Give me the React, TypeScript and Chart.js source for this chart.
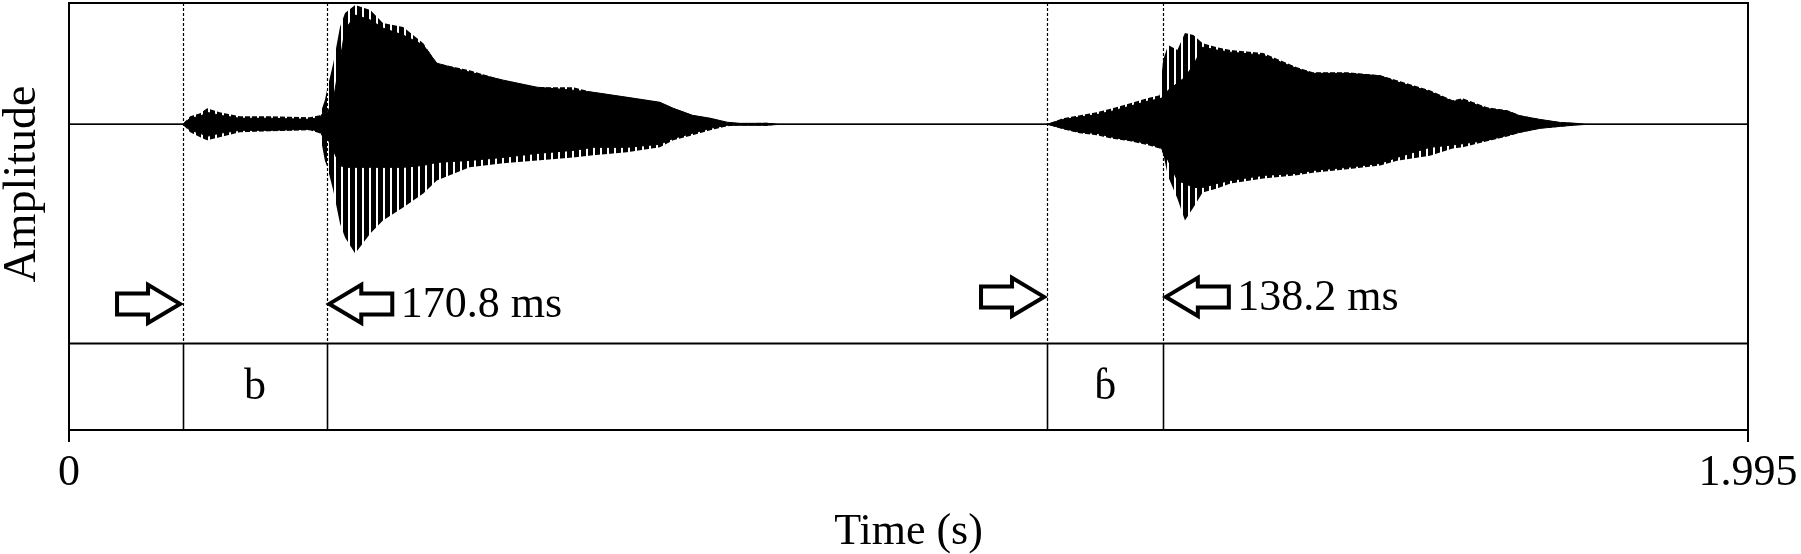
import { useEffect, useRef } from 'react';
import { Chart, registerables } from 'chart.js';

Chart.register(...registerables);

// ---- Data ----
// time (s) of each envelope sample
const TIME = [
  0.0, 0.135, 0.144, 0.156, 0.164, 0.179, 0.203, 0.239, 0.286, 0.298,
  0.304, 0.307, 0.314, 0.322, 0.328, 0.34, 0.358, 0.373, 0.397, 0.421,
  0.437, 0.476, 0.516, 0.556, 0.599, 0.623, 0.663, 0.702, 0.718, 0.741,
  0.762, 0.782, 0.797, 0.829, 0.845,
  1.162, 1.181, 1.201, 1.221, 1.24, 1.261, 1.281, 1.296, 1.3, 1.306,
  1.317, 1.326, 1.336, 1.347, 1.364, 1.38, 1.419, 1.459, 1.478, 1.519,
  1.558, 1.578, 1.617, 1.644, 1.656, 1.685, 1.709, 1.724, 1.748, 1.772,
  1.787, 1.804, 1.995,
];
// outer (spike) envelope, positive side
const UPPER_PEAK = [
  0, 0, 0.066, 0.091, 0.132, 0.099, 0.066, 0.066, 0.058, 0.074,
  0.198, 0.298, 0.504, 0.802, 0.917, 0.983, 0.942, 0.835, 0.802, 0.669,
  0.504, 0.446, 0.364, 0.306, 0.306, 0.264, 0.223, 0.182, 0.132, 0.074,
  0.05, 0.017, 0.008, 0.012, 0,
  0, 0.05, 0.074, 0.099, 0.132, 0.174, 0.215, 0.24, 0.529, 0.653,
  0.612, 0.752, 0.736, 0.669, 0.636, 0.612, 0.587, 0.471, 0.43, 0.43,
  0.405, 0.364, 0.281, 0.198, 0.215, 0.14, 0.116, 0.074, 0.041, 0.017,
  0.01, 0, 0,
];
// dense (solid) body, positive side
const UPPER_BODY = [
  0, 0, 0.05, 0.066, 0.099, 0.074, 0.05, 0.05, 0.041, 0.058,
  0.116, 0.099, 0.198, 0.529, 0.777, 0.901, 0.86, 0.793, 0.736, 0.653,
  0.504, 0.43, 0.364, 0.306, 0.281, 0.264, 0.223, 0.182, 0.132, 0.074,
  0.05, 0.017, 0.008, 0.008, 0,
  0, 0.04, 0.06, 0.08, 0.11, 0.15, 0.19, 0.21, 0.223, 0.281,
  0.339, 0.388, 0.488, 0.636, 0.612, 0.595, 0.57, 0.46, 0.42, 0.42,
  0.4, 0.35, 0.27, 0.19, 0.2, 0.13, 0.11, 0.07, 0.04, 0.015,
  0.01, 0, 0,
];
// dense (solid) body, negative side
const LOWER_BODY = [
  0, 0, -0.05, -0.074, -0.099, -0.074, -0.05, -0.05, -0.041, -0.058,
  -0.132, -0.116, -0.215, -0.339, -0.355, -0.355, -0.355, -0.355, -0.355, -0.339,
  -0.314, -0.298, -0.273, -0.24, -0.215, -0.19, -0.19, -0.165, -0.116, -0.074,
  -0.033, -0.008, -0.008, -0.008, 0,
  0, -0.033, -0.066, -0.074, -0.107, -0.132, -0.157, -0.19, -0.215, -0.298,
  -0.463, -0.488, -0.521, -0.521, -0.488, -0.463, -0.421, -0.405, -0.38, -0.355,
  -0.322, -0.273, -0.19, -0.17, -0.16, -0.132, -0.091, -0.066, -0.033, -0.017,
  -0.008, 0, 0,
];
// outer (spike) envelope, negative side
const LOWER_PEAK = [
  0, 0, -0.066, -0.107, -0.132, -0.107, -0.066, -0.058, -0.05, -0.074,
  -0.298, -0.355, -0.545, -0.818, -0.934, -1.066, -0.901, -0.793, -0.686, -0.57,
  -0.463, -0.355, -0.322, -0.298, -0.273, -0.256, -0.231, -0.19, -0.132, -0.091,
  -0.05, -0.017, -0.008, -0.012, 0,
  0, -0.04, -0.074, -0.09, -0.12, -0.14, -0.17, -0.2, -0.24, -0.43,
  -0.612, -0.793, -0.686, -0.562, -0.529, -0.488, -0.446, -0.42, -0.4, -0.37,
  -0.34, -0.3, -0.26, -0.2, -0.19, -0.14, -0.1, -0.07, -0.035, -0.02,
  -0.01, 0, 0,
];
const BASELINE_TIME = [0, 1.995];
const X_TICKS = [0, 1.995];
// segment intervals on the annotation tier (s)
const SEG_START = [0.1355, 1.1621];
const SEG_END = [0.3063, 1.3003];
const SEG_LABELS = ['b', 'ɓ'];
const DURATION_LABELS = ['170.8 ms', '138.2 ms'];
// vertical range: waveform on top, annotation tier below TIER_TOP
const Y_MIN = -2.52;
const Y_MAX = 1.0;
const TIER_TOP = -1.806;

const FONT = '"Liberation Serif", "Times New Roman", serif';

function drawArrow(ctx: CanvasRenderingContext2D, tipX: number, cy: number, dir: number) {
  const L = 63;
  const H = 32;
  const hh = 19;
  const sh = 10.5;
  ctx.beginPath();
  ctx.moveTo(tipX, cy);
  ctx.lineTo(tipX - dir * H, cy - hh);
  ctx.lineTo(tipX - dir * H, cy - sh);
  ctx.lineTo(tipX - dir * L, cy - sh);
  ctx.lineTo(tipX - dir * L, cy + sh);
  ctx.lineTo(tipX - dir * H, cy + sh);
  ctx.lineTo(tipX - dir * H, cy + hh);
  ctx.closePath();
  ctx.fillStyle = '#fff';
  ctx.fill();
  ctx.lineWidth = 4;
  ctx.lineJoin = 'miter';
  ctx.strokeStyle = '#000';
  ctx.stroke();
}

const annotationPlugin = {
  id: 'tierAnnotations',
  afterDraw(chart: any) {
    const { ctx, chartArea, scales } = chart;
    const { left, right, top, bottom } = chartArea;
    const x = scales.x;
    const y = scales.y;
    const split = y.getPixelForValue(TIER_TOP);
    ctx.save();
    ctx.strokeStyle = '#000';
    ctx.lineCap = 'butt';
    // top border & tier separator
    ctx.lineWidth = 2;
    ctx.beginPath();
    ctx.moveTo(left - 1, top);
    ctx.lineTo(right + 1, top);
    ctx.stroke();
    ctx.beginPath();
    ctx.moveTo(left, split);
    ctx.lineTo(right, split);
    ctx.stroke();

    const arrowOffsets = [39.5, 46.5];
    SEG_START.forEach((t0, i) => {
      const t1 = SEG_END[i];
      const p0 = x.getPixelForValue(t0);
      const p1 = x.getPixelForValue(t1);
      [p0, p1].forEach((p) => {
        const px = Math.round(p) + 0.5;
        ctx.setLineDash([3, 2]);
        ctx.lineWidth = 1.2;
        ctx.beginPath();
        ctx.moveTo(px, top);
        ctx.lineTo(px, split);
        ctx.stroke();
        ctx.setLineDash([]);
        ctx.lineWidth = 1.6;
        ctx.beginPath();
        ctx.moveTo(px, split);
        ctx.lineTo(px, bottom);
        ctx.stroke();
      });
      // segment label
      ctx.fillStyle = '#000';
      ctx.font = `44px ${FONT}`;
      ctx.textAlign = 'center';
      ctx.textBaseline = 'alphabetic';
      ctx.fillText(SEG_LABELS[i], (p0 + p1) / 2, (split + bottom) / 2 + 12);
      // arrows
      const cy = split - arrowOffsets[i];
      drawArrow(ctx, p0 - 3, cy, 1);
      drawArrow(ctx, p1 + 2.5, cy, -1);
      ctx.fillStyle = '#000';
      ctx.textAlign = 'left';
      ctx.fillText(DURATION_LABELS[i], p1 + 74, cy + 13);
    });

    // y axis title
    ctx.save();
    ctx.translate(35, 184);
    ctx.rotate(-Math.PI / 2);
    ctx.textAlign = 'center';
    ctx.textBaseline = 'alphabetic';
    ctx.font = `46px ${FONT}`;
    ctx.fillStyle = '#000';
    ctx.fillText('Amplitude', 0, 0);
    ctx.restore();
    ctx.restore();
  },
};

export default function App() {
  const ref = useRef<HTMLCanvasElement | null>(null);

  useEffect(() => {
    document.body.style.margin = '0';
    const canvas = ref.current;
    if (!canvas) return;
    const ctx = canvas.getContext('2d')!;

    const pc = document.createElement('canvas');
    pc.width = 7;
    pc.height = 4;
    const pctx = pc.getContext('2d')!;
    pctx.fillStyle = '#000';
    pctx.fillRect(0, 0, 5, 4);
    const pattern = ctx.createPattern(pc, 'repeat') || '#333';

    const pts = (arr: number[]) => TIME.map((t, i) => ({ x: t, y: arr[i] }));

    const chart = new Chart(ctx, {
      type: 'line',
      data: {
        datasets: [
          {
            data: pts(UPPER_PEAK),
            borderWidth: 0,
            borderColor: 'rgba(0,0,0,0)',
            backgroundColor: pattern as any,
            fill: '+1',
            pointRadius: 0,
            order: 3,
          },
          {
            data: pts(LOWER_PEAK),
            borderWidth: 0,
            borderColor: 'rgba(0,0,0,0)',
            fill: false,
            pointRadius: 0,
            order: 3,
          },
          {
            data: pts(UPPER_BODY),
            borderWidth: 1,
            borderColor: '#000',
            backgroundColor: '#000',
            fill: '+1',
            pointRadius: 0,
            order: 2,
          },
          {
            data: pts(LOWER_BODY),
            borderWidth: 1,
            borderColor: '#000',
            fill: false,
            pointRadius: 0,
            order: 2,
          },
          {
            data: BASELINE_TIME.map((t) => ({ x: t, y: 0 })),
            borderWidth: 1.5,
            borderColor: '#000',
            fill: false,
            pointRadius: 0,
            order: 1,
          },
        ],
      },
      options: {
        responsive: false,
        animation: false,
        events: [],
        layout: { padding: { left: 69, right: 53, top: 3, bottom: 0 } },
        elements: { line: { tension: 0 } },
        plugins: { legend: { display: false }, tooltip: { enabled: false } },
        scales: {
          x: {
            type: 'linear',
            min: 0,
            max: 1.995,
            afterBuildTicks: (axis: any) => {
              axis.ticks = X_TICKS.map((v) => ({ value: v }));
            },
            afterFit: (axis: any) => {
              axis.paddingLeft = 0;
              axis.paddingRight = 0;
            },
            ticks: {
              color: '#000',
              padding: 9,
              maxRotation: 0,
              font: { family: FONT, size: 44, lineHeight: 1 },
              callback: (v: any) => String(v),
            },
            grid: {
              color: '#000',
              lineWidth: 2,
              tickLength: 12,
              drawOnChartArea: true,
            },
            border: { display: true, color: '#000', width: 2 },
            title: {
              display: true,
              text: 'Time (s)',
              color: '#000',
              font: { family: FONT, size: 44, lineHeight: 1 },
              padding: { top: 6, bottom: 0 },
            },
          },
          y: {
            type: 'linear',
            display: false,
            min: Y_MIN,
            max: Y_MAX,
          },
        },
      },
      plugins: [annotationPlugin],
    });

    return () => chart.destroy();
  }, []);

  return (
    <div style={{ width: 1801, height: 554 }}>
      <canvas ref={ref} width={1801} height={554} style={{ display: 'block' }} />
    </div>
  );
}
